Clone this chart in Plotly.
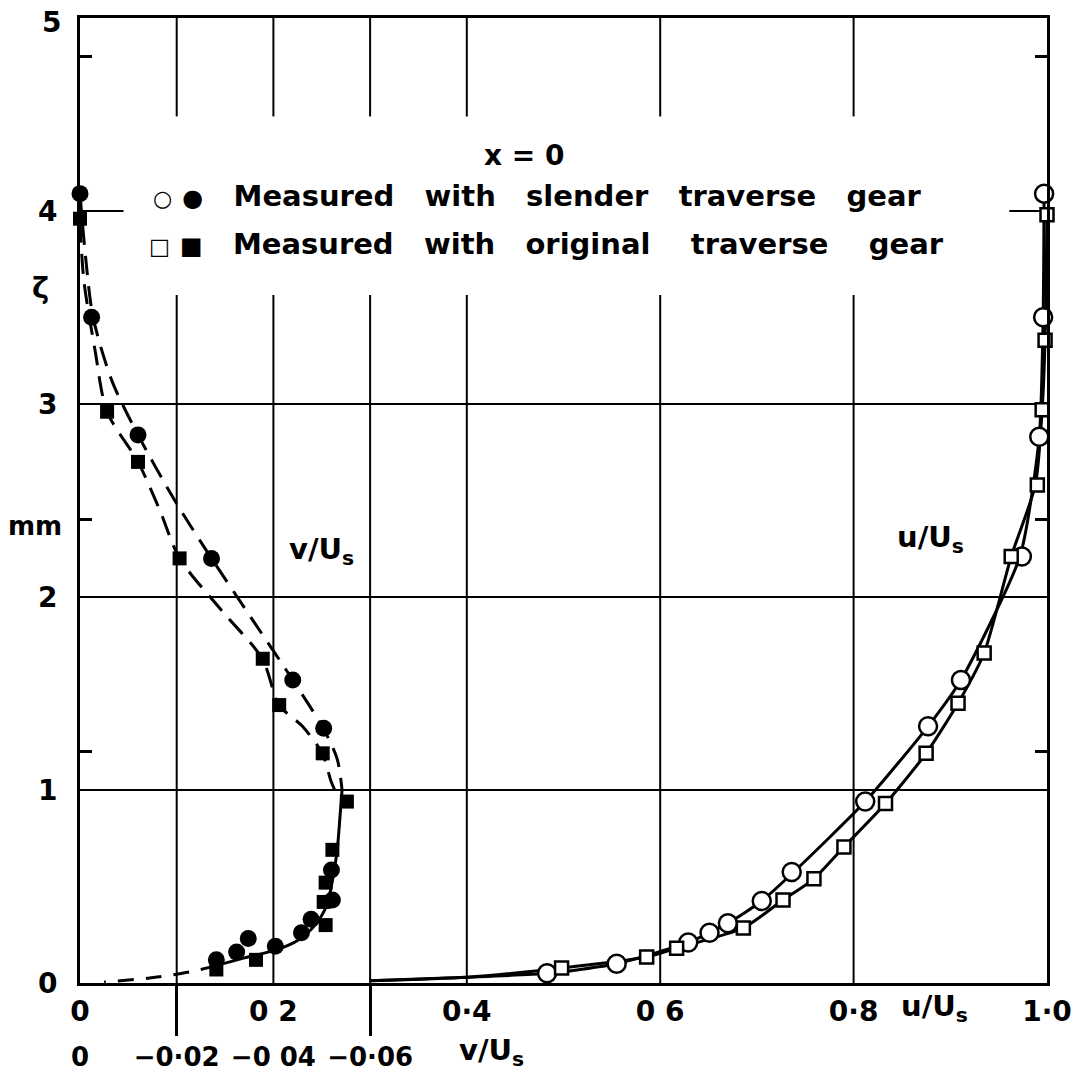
import plotly.graph_objects as go

# ---------------- data ----------------
# u/U_s profiles (open symbols)
slender_u_zeta = [0.05, 0.10, 0.21, 0.26, 0.31, 0.425, 0.575, 0.94, 1.33, 1.57, 2.21, 2.83, 3.45, 4.09]
slender_u = [0.483, 0.555, 0.629, 0.651, 0.670, 0.705, 0.736, 0.812, 0.877, 0.911, 0.974, 0.992, 0.996, 0.997]

original_u_zeta = [0.078, 0.135, 0.18, 0.285, 0.43, 0.54, 0.705, 0.93, 1.19, 1.45, 1.71, 2.21, 2.58, 2.97, 3.33, 3.98]
original_u = [0.498, 0.586, 0.617, 0.686, 0.727, 0.759, 0.790, 0.833, 0.875, 0.908, 0.935, 0.963, 0.990, 0.995, 0.998, 1.0]

# faired u/U_s curves
slender_u_curve_zeta = [0.012, 0.03, 0.05, 0.10, 0.21, 0.31, 0.425, 0.575, 0.94, 1.33, 1.57, 2.21, 2.83, 3.45, 4.09]
slender_u_curve = [0.30, 0.40, 0.483, 0.555, 0.629, 0.670, 0.705, 0.738, 0.812, 0.877, 0.911, 0.972, 0.992, 0.996, 0.997]
original_u_curve_zeta = [0.012, 0.03, 0.078, 0.135, 0.18, 0.285, 0.43, 0.54, 0.705, 0.93, 1.19, 1.45, 1.71, 2.21, 2.58, 2.97, 3.33, 3.98]
original_u_curve = [0.30, 0.40, 0.498, 0.586, 0.617, 0.686, 0.727, 0.759, 0.790, 0.833, 0.875, 0.908, 0.935, 0.963, 0.988, 0.995, 0.998, 1.0]

# v/U_s profiles (filled symbols)
slender_v_zeta = [4.09, 3.45, 2.84, 2.20, 1.57, 1.32, 0.585, 0.43, 0.33, 0.26, 0.19, 0.23, 0.16, 0.12]
slender_v = [0.0, -0.0024, -0.012, -0.0272, -0.044, -0.0504, -0.052, -0.0522, -0.0478, -0.0458, -0.0404, -0.0348, -0.0324, -0.0282]

original_v_zeta = [3.96, 2.96, 2.70, 2.20, 1.68, 1.44, 1.19, 0.94, 0.69, 0.52, 0.42, 0.30, 0.12, 0.07]
original_v = [0.0, -0.0056, -0.012, -0.0206, -0.0378, -0.0412, -0.0502, -0.0552, -0.0522, -0.0508, -0.0504, -0.0508, -0.0364, -0.0282]

# faired v/U_s curves
slender_v_curve_zeta = [4.09, 3.75, 3.45, 3.12, 2.84, 2.50, 2.20, 1.87, 1.57, 1.32, 1.16, 1.00]
slender_v_curve = [0.0, -0.0012, -0.0027, -0.0066, -0.012, -0.0196, -0.0272, -0.036, -0.044, -0.0503, -0.0532, -0.0542]
original_v_curve_zeta = [3.94, 3.64, 3.28, 2.96, 2.70, 2.45, 2.20, 1.93, 1.68, 1.44, 1.33, 1.19, 1.04, 0.95]
original_v_curve = [0.0, -0.0008, -0.0031, -0.0056, -0.012, -0.0165, -0.0206, -0.0293, -0.0377, -0.0412, -0.046, -0.0501, -0.052, -0.0536]
lower_v_curve_zeta = [1.00, 0.87, 0.69, 0.53, 0.40, 0.30, 0.22, 0.17, 0.13, 0.09]
lower_v_curve = [-0.0542, -0.0538, -0.0532, -0.0522, -0.051, -0.0486, -0.045, -0.0404, -0.034, -0.0282]
tail_v_curve_zeta = [0.09, 0.057, 0.026, 0.005]
tail_v_curve = [-0.0282, -0.0226, -0.0144, -0.005]

# axes
u_tickvals = [0, 0.2, 0.4, 0.6, 0.8, 1.0]
u_ticktext = ["0", "0 2", "0·4", "0 6", "0·8", "1·0"]
u_grid = [0.1, 0.2, 0.3, 0.4, 0.6, 0.8]
v_tickvals = [0, -0.02, -0.04, -0.06]
v_ticktext = ["0", "−0·02", "−0 04", "−0·06"]
v_long_ticks = [-0.02, -0.06]
zeta_tickvals = [0, 1, 2, 3, 4, 5]
zeta_ticktext = ["0", "1", "2", "3", "4", "5"]
zeta_small_ticks = [1.2, 2.4, 4.8]

# layout of the key panel (gap in the vertical grid lines)
KEY_U = (0.045, 0.961)
KEY_Z = (3.565, 4.49)

FONT = "DejaVu Sans"
BLK = "black"
NB = "\u00a0"

fig = go.Figure()

# vertical grid lines, broken where the key sits
gx, gy = [], []
for g in u_grid:
    gx += [g, g, None, g, g, None]
    gy += [0, KEY_Z[0], None, KEY_Z[1], 5, None]
fig.add_trace(go.Scatter(x=gx, y=gy, mode="lines", line=dict(color=BLK, width=2),
                         hoverinfo="skip", connectgaps=False))

dash = "20px,11px"
# v curves (dashed upper portions)
fig.add_trace(go.Scatter(x=slender_v_curve, y=slender_v_curve_zeta, xaxis="x3", yaxis="y",
                         mode="lines", line=dict(color=BLK, width=3, dash=dash, shape="spline", smoothing=0.8),
                         hoverinfo="skip"))
fig.add_trace(go.Scatter(x=original_v_curve, y=original_v_curve_zeta, xaxis="x3", yaxis="y",
                         mode="lines", line=dict(color=BLK, width=3, dash=dash, shape="spline", smoothing=0.8),
                         hoverinfo="skip"))
fig.add_trace(go.Scatter(x=lower_v_curve, y=lower_v_curve_zeta, xaxis="x3", yaxis="y",
                         mode="lines", line=dict(color=BLK, width=3, shape="spline", smoothing=0.8),
                         hoverinfo="skip"))
fig.add_trace(go.Scatter(x=tail_v_curve, y=tail_v_curve_zeta, xaxis="x3", yaxis="y",
                         mode="lines", line=dict(color=BLK, width=3, dash="16px,12px", shape="spline", smoothing=0.8),
                         hoverinfo="skip"))

# u curves
fig.add_trace(go.Scatter(x=slender_u_curve, y=slender_u_curve_zeta, mode="lines",
                         line=dict(color=BLK, width=3, shape="spline", smoothing=0.6), hoverinfo="skip"))
fig.add_trace(go.Scatter(x=original_u_curve, y=original_u_curve_zeta, mode="lines",
                         line=dict(color=BLK, width=3, shape="spline", smoothing=0.6), hoverinfo="skip"))

# markers
fig.add_trace(go.Scatter(x=slender_v, y=slender_v_zeta, xaxis="x2", yaxis="y", mode="markers",
                         marker=dict(symbol="circle", size=17, color=BLK, line=dict(width=0)),
                         cliponaxis=False, name="slender v"))
fig.add_trace(go.Scatter(x=original_v, y=original_v_zeta, xaxis="x2", yaxis="y", mode="markers",
                         marker=dict(symbol="square", size=14, color=BLK, line=dict(width=0)),
                         cliponaxis=False, name="original v"))
fig.add_trace(go.Scatter(x=slender_u, y=slender_u_zeta, mode="markers",
                         marker=dict(symbol="circle", size=18, color="white", line=dict(width=2.5, color=BLK)),
                         cliponaxis=False, name="slender u"))
fig.add_trace(go.Scatter(x=original_u, y=original_u_zeta, mode="markers",
                         marker=dict(symbol="square", size=13, color="white", line=dict(width=2.5, color=BLK)),
                         cliponaxis=False, name="original u"))

# white panel behind the key (interrupts the y = 4 grid line)
fig.add_shape(type="rect", xref="x", yref="y", x0=KEY_U[0], x1=KEY_U[1], y0=KEY_Z[0], y1=KEY_Z[1],
              fillcolor="white", line=dict(width=0), layer="between")

tf = dict(family=FONT, size=28, color=BLK, weight="bold")
tf2 = dict(family=FONT, size=26, color=BLK, weight="bold")

# the top label is written separately so it sits just below the frame line
zeta_axis_text = zeta_ticktext[:-1] + [""]

fig.update_layout(
    width=1084, height=1089,
    margin=dict(l=72, r=45, t=10, b=114),
    paper_bgcolor="white", plot_bgcolor="white",
    showlegend=False,
    font=dict(family=FONT, color=BLK),
    xaxis=dict(range=[0, 1], tickmode="array", tickvals=u_tickvals, ticktext=u_ticktext,
               showgrid=False,
               showline=True, linecolor=BLK, linewidth=3, mirror=True, ticks="",
               zeroline=False, tickfont=tf, ticklabelstandoff=1, automargin=False,
               ticklabeloverflow="allow"),
    xaxis2=dict(range=[0, -0.2], overlaying="x", anchor="y", side="bottom",
                tickmode="array", tickvals=v_long_ticks, ticks="outside", ticklen=52, tickwidth=2.5,
                tickcolor=BLK, showticklabels=False, showgrid=False, showline=False, zeroline=False,
                automargin=False),
    xaxis3=dict(range=[0, -0.2], overlaying="x", anchor="y", side="bottom",
                tickmode="array", tickvals=v_tickvals, ticktext=v_ticktext, ticks="",
                showgrid=False, showline=False, zeroline=False, tickfont=tf2, ticklabelstandoff=56,
                automargin=False, ticklabeloverflow="allow"),
    yaxis=dict(range=[0, 5], tickmode="array", tickvals=zeta_tickvals, ticktext=zeta_axis_text,
               showgrid=True, gridcolor=BLK, gridwidth=2,
               minor=dict(tickmode="array", tickvals=zeta_small_ticks, ticks="inside", ticklen=12,
                          tickwidth=2.5, tickcolor=BLK, showgrid=False),
               showline=True, linecolor=BLK, linewidth=3, mirror="allticks", ticks="",
               zeroline=False, tickfont=tf, ticklabelstandoff=14, automargin=False,
               ticklabeloverflow="allow"),
)

bf = dict(family=FONT, size=29, color=BLK, weight="bold")
ann = []
ann.append(dict(text=zeta_ticktext[-1], x=0, y=zeta_tickvals[-1], xref="paper", yref="y",
                xanchor="right", xshift=-17, yshift=-4, showarrow=False, font=tf))
ann.append(dict(text="x = 0", x=0.46, y=4.29, xref="x", yref="y", showarrow=False,
                font=dict(family=FONT, size=28, color=BLK, weight="bold")))
sp3 = NB * 3
small_c = '<span style="font-size:22px">○</span>'
small_f = '<span style="font-size:24px">●</span>'
small_s = '<span style="font-size:22px">□</span>'
small_fs = '<span style="font-size:24px">■</span>'
line1 = small_c + NB + small_f + sp3 + "Measured" + sp3 + "with" + sp3 + "slender" + sp3 + "traverse" + sp3 + "gear"
line2 = small_s + NB + small_fs + sp3 + "Measured" + sp3 + "with" + sp3 + "original" + NB * 4 + "traverse" + NB * 4 + "gear"
ann.append(dict(text=line1, x=0.073, y=4.08, xref="x", yref="y", xanchor="left", showarrow=False, font=bf))
ann.append(dict(text=line2, x=0.069, y=3.83, xref="x", yref="y", xanchor="left", showarrow=False, font=bf))
ann.append(dict(text="v/U<sub>s</sub>", x=0.25, y=2.24, xref="x", yref="y", showarrow=False, font=bf))
ann.append(dict(text="u/U<sub>s</sub>", x=0.88, y=2.30, xref="x", yref="y", showarrow=False, font=bf))
ann.append(dict(text="u/U<sub>s</sub>", x=0.884, y=0, xref="x", yref="y", yanchor="top", yshift=-4,
                showarrow=False, font=bf))
ann.append(dict(text="v/U<sub>s</sub>", x=0.39, y=0, xref="x", yref="y", yanchor="top", xanchor="left",
                yshift=-48, showarrow=False, font=bf))
ann.append(dict(text="ζ", x=0, y=3.6, xref="paper", yref="y", xanchor="center", xshift=-40,
                showarrow=False, font=bf))
ann.append(dict(text="mm", x=0, y=2.37, xref="paper", yref="y", xanchor="center", xshift=-45,
                showarrow=False, font=dict(family=FONT, size=26, color=BLK, weight="bold")))
fig.update_layout(annotations=ann)

fig.write_html("out.html")
